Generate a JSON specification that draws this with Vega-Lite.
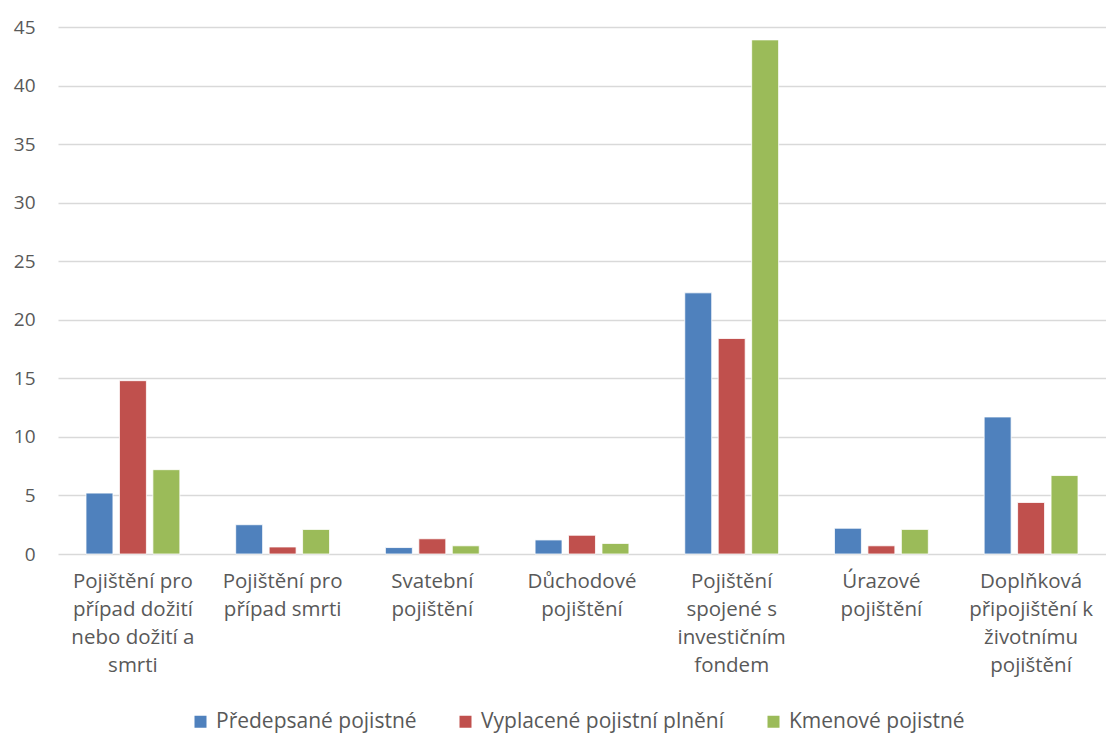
{
  "$schema": "https://vega.github.io/schema/vega-lite/v6.json",
  "width": 1048,
  "height": 527,
  "autosize": {"type": "none"},
  "padding": {"left": 58, "top": 27, "right": 0, "bottom": 181},
  "background": "white",
  "config": {
    "font": "Open Sans",
    "view": {"stroke": null},
    "axis": {"labelFont": "Open Sans", "labelColor": "#595959"},
    "legend": {"labelFont": "Open Sans"}
  },
  "data": {
    "values": [
      {"kategorie": "Pojištění pro případ dožití nebo dožití a smrti", "ukazatel": "Předepsané pojistné", "hodnota": 5.2},
      {"kategorie": "Pojištění pro případ dožití nebo dožití a smrti", "ukazatel": "Vyplacené pojistní plnění", "hodnota": 14.8},
      {"kategorie": "Pojištění pro případ dožití nebo dožití a smrti", "ukazatel": "Kmenové pojistné", "hodnota": 7.2},
      {"kategorie": "Pojištění pro případ smrti", "ukazatel": "Předepsané pojistné", "hodnota": 2.5},
      {"kategorie": "Pojištění pro případ smrti", "ukazatel": "Vyplacené pojistní plnění", "hodnota": 0.6},
      {"kategorie": "Pojištění pro případ smrti", "ukazatel": "Kmenové pojistné", "hodnota": 2.1},
      {"kategorie": "Svatební pojištění", "ukazatel": "Předepsané pojistné", "hodnota": 0.55},
      {"kategorie": "Svatební pojištění", "ukazatel": "Vyplacené pojistní plnění", "hodnota": 1.3},
      {"kategorie": "Svatební pojištění", "ukazatel": "Kmenové pojistné", "hodnota": 0.7},
      {"kategorie": "Důchodové pojištění", "ukazatel": "Předepsané pojistné", "hodnota": 1.2},
      {"kategorie": "Důchodové pojištění", "ukazatel": "Vyplacené pojistní plnění", "hodnota": 1.6},
      {"kategorie": "Důchodové pojištění", "ukazatel": "Kmenové pojistné", "hodnota": 0.9},
      {"kategorie": "Pojištění spojené s investičním fondem", "ukazatel": "Předepsané pojistné", "hodnota": 22.3},
      {"kategorie": "Pojištění spojené s investičním fondem", "ukazatel": "Vyplacené pojistní plnění", "hodnota": 18.4},
      {"kategorie": "Pojištění spojené s investičním fondem", "ukazatel": "Kmenové pojistné", "hodnota": 43.9},
      {"kategorie": "Úrazové pojištění", "ukazatel": "Předepsané pojistné", "hodnota": 2.2},
      {"kategorie": "Úrazové pojištění", "ukazatel": "Vyplacené pojistní plnění", "hodnota": 0.7},
      {"kategorie": "Úrazové pojištění", "ukazatel": "Kmenové pojistné", "hodnota": 2.1},
      {"kategorie": "Doplňková připojištění k životnímu pojištění", "ukazatel": "Předepsané pojistné", "hodnota": 11.7},
      {"kategorie": "Doplňková připojištění k životnímu pojištění", "ukazatel": "Vyplacené pojistní plnění", "hodnota": 4.4},
      {"kategorie": "Doplňková připojištění k životnímu pojištění", "ukazatel": "Kmenové pojistné", "hodnota": 6.7}
    ]
  },
  "mark": {"type": "bar", "stroke": "white", "strokeWidth": 0.8},
  "encoding": {
    "x": {
      "field": "kategorie",
      "type": "nominal",
      "sort": null,
      "title": null,
      "scale": {"paddingInner": 0.373, "paddingOuter": 0.187},
      "axis": {
        "labelAngle": 0,
        "domain": false,
        "ticks": false,
        "labelPadding": 17,
        "labelFontSize": 20.5,
        "labelLineHeight": 28,
        "labelBaseline": "top",
        "labelLimit": 200,
        "labelExpr": "{'Pojištění pro případ dožití nebo dožití a smrti': ['Pojištění pro', 'případ dožití', 'nebo dožití a', 'smrti'], 'Pojištění pro případ smrti': ['Pojištění pro', 'případ smrti'], 'Svatební pojištění': ['Svatební', 'pojištění'], 'Důchodové pojištění': ['Důchodové', 'pojištění'], 'Pojištění spojené s investičním fondem': ['Pojištění', 'spojené s', 'investičním', 'fondem'], 'Úrazové pojištění': ['Úrazové', 'pojištění'], 'Doplňková připojištění k životnímu pojištění': ['Doplňková', 'připojištění k', 'životnímu', 'pojištění']}[datum.value]"
      }
    },
    "xOffset": {
      "field": "ukazatel",
      "type": "nominal",
      "sort": ["Předepsané pojistné", "Vyplacené pojistní plnění", "Kmenové pojistné"],
      "scale": {"paddingInner": 0.194, "paddingOuter": 0}
    },
    "y": {
      "field": "hodnota",
      "type": "quantitative",
      "title": null,
      "scale": {"domain": [0, 45], "nice": false},
      "axis": {
        "values": [0, 5, 10, 15, 20, 25, 30, 35, 40, 45],
        "domain": false,
        "ticks": false,
        "labelPadding": 23,
        "labelFontSize": 19,
        "gridColor": "#d9d9d9",
        "gridWidth": 1.5
      }
    },
    "color": {
      "field": "ukazatel",
      "type": "nominal",
      "sort": ["Předepsané pojistné", "Vyplacené pojistní plnění", "Kmenové pojistné"],
      "title": null,
      "scale": {"range": ["#4F81BD", "#C0504D", "#9BBB59"]},
      "legend": {
        "orient": "none",
        "legendX": 132,
        "legendY": 684,
        "direction": "horizontal",
        "symbolType": "square",
        "symbolSize": 144,
        "symbolStrokeWidth": 0,
        "labelFontSize": 21,
        "labelColor": "#595959",
        "labelLimit": 400,
        "columnPadding": 38,
        "labelOffset": 5
      }
    }
  }
}
